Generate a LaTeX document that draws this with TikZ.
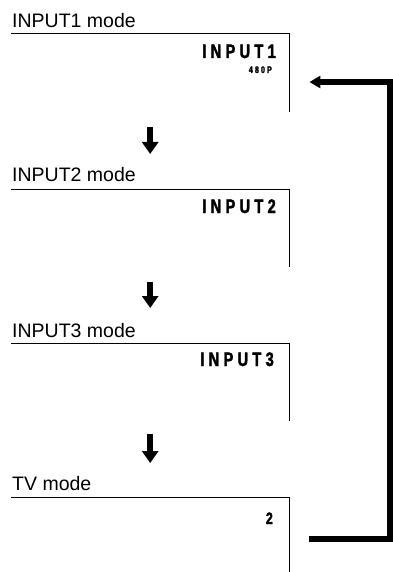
\documentclass[tikz,border=0pt]{standalone}
\usepackage{fontspec}
\setmainfont{Liberation Sans}
\newfontfamily\lcdfont[LetterSpace=22,FakeStretch=0.75,FakeBold=2]{Liberation Sans Bold}
\usetikzlibrary{arrows.meta}

\begin{document}
\begin{tikzpicture}[x=1pt,y=-1pt,
  screen/.style={minimum width=278pt,minimum height=78pt,inner sep=0pt,anchor=north west},
  mode/.style={anchor=base west,inner sep=0pt,font=\fontsize{19.5}{20}\selectfont},
  lcd/.style={anchor=base east,inner sep=0pt,font=\fontsize{19.5}{20}\lcdfont},
  lcdsmall/.style={lcd,font=\fontsize{9.5}{10}\lcdfont},
  frame/.style={line width=1pt},
  nextarrow/.style={line width=6.5pt,-{Triangle[length=12pt,width=16pt]}},
  backarrow/.style={line width=6pt,-{Triangle[length=11pt,width=12pt]}}]
\useasboundingbox (0,0) rectangle (392,572);
% screens
\node[screen] (s1) at (11,34) {};
\node[screen] (s2) at (11,189) {};
\node[screen] (s3) at (11,343) {};
\node[screen,minimum height=75pt] (s4) at (11,497) {};
\draw[frame] (s1.north west) -- (s1.north east) -- (s1.south east);
\draw[frame] (s2.north west) -- (s2.north east) -- (s2.south east);
\draw[frame] (s3.north west) -- (s3.north east) -- (s3.south east);
\draw[frame] (s4.north west) -- (s4.north east) -- (s4.south east);
% mode names
\node[mode] (m1) at (12,27.5) {INPUT1 mode};
\node[mode] (m2) at (12,182) {INPUT2 mode};
\node[mode] (m3) at (12,337.5) {INPUT3 mode};
\node[mode] (m4) at (12,490.5) {TV mode};
% display texts
\node[lcd] (d1) at (276,58) {INPUT1};
\node[lcdsmall] (d1b) at (272,73) {480P};
\node[lcd] (d2) at (276,213) {INPUT2};
\node[lcd] (d3) at (274,366) {INPUT3};
\node[lcd,font=\fontsize{16.5}{17}\lcdfont] (d4) at (273,524) {2};
% arrows
\draw[nextarrow] ([yshift=-15pt]s1.south) -- ([yshift=35pt]s2.north);
\draw[nextarrow] ([yshift=-15pt]s2.south) -- ([yshift=35pt]s3.north);
\draw[nextarrow] ([yshift=-13pt]s3.south) -- ([yshift=34pt]s4.north);
\coordinate (loopin) at ([xshift=20pt,yshift=-48pt]s1.north east);
\coordinate (loopout) at ([xshift=20pt,yshift=-41.5pt]s4.north east);
\draw[backarrow] (loopout) -- ++(80.5,0) |- (loopin);
\end{tikzpicture}
\end{document}
